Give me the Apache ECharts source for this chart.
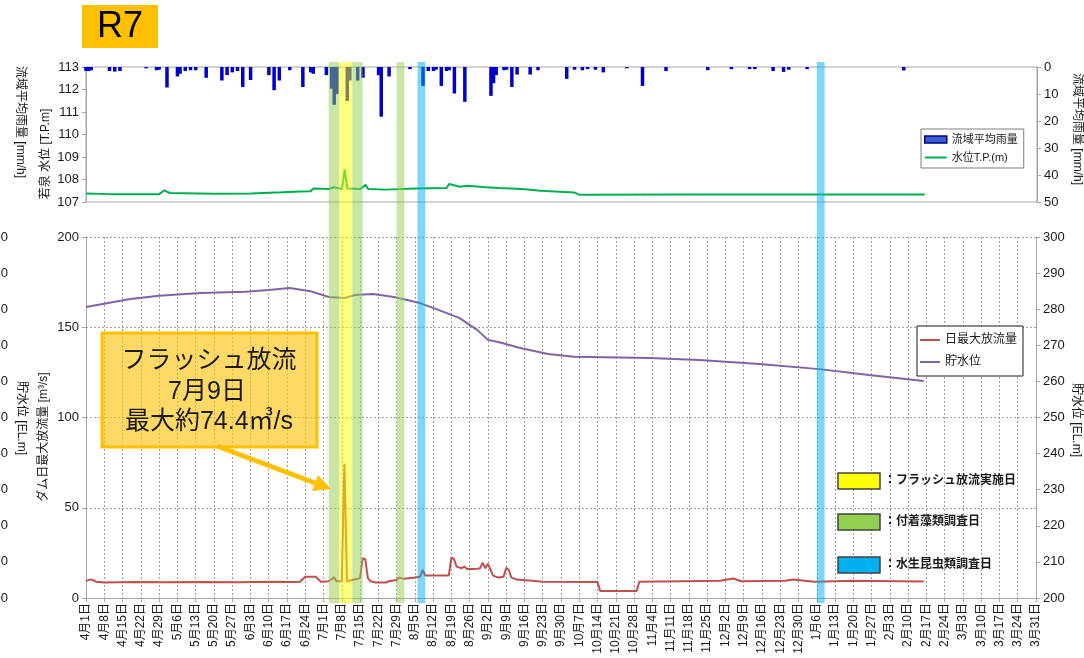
<!DOCTYPE html>
<html>
<head>
<meta charset="utf-8">
<script src="https://cdn.jsdelivr.net/npm/echarts@6/dist/echarts.min.js"></script>
<style>
  html, body { margin: 0; padding: 0; background: #fff; }
  #chart { width: 1084px; height: 658px; }
</style>
</head>
<body>
<div id="chart"></div>
<script>
// ---- Data (fiscal year R7: 4/1 .. 3/31) ----
// Basin average rainfall [mm/h]
const rainDates = ['4/1','4/2','4/3','4/10','4/12','4/14','4/24','4/28','4/29','5/2','5/6','5/7','5/9','5/11','5/13','5/17','5/23','5/25','5/27','5/29','5/31','6/3','6/10','6/12','6/14','6/18','6/23','6/26','6/27','7/2','7/4','7/5','7/6','7/10','7/11','7/14','7/16','7/22','7/23','7/26','8/3','8/8','8/10','8/12','8/13','8/15','8/17','8/18','8/20','8/24','9/3','9/4','9/5','9/8','9/9','9/11','9/13','9/18','9/21','10/2','10/5','10/8','10/10','10/13','10/16','10/25','10/31','11/9','11/25','12/4','12/11','12/13','12/20','12/24','12/26','1/2','2/8'];
const rainValues = [1.5,1.5,1.2,1.5,1.7,1.5,0.5,1.2,1.0,7.6,3.5,2.5,1.5,1.2,1.2,4.0,5.0,3.0,2.0,1.5,7.4,4.8,3.0,8.6,5.0,1.2,7.4,2.0,2.5,3.0,8.0,14.0,10.0,12.6,5.0,5.0,4.0,3.0,18.4,3.5,0.8,7.0,1.5,1.5,1.0,7.0,1.5,1.2,9.8,12.9,10.7,6.0,3.0,1.2,1.0,7.4,2.8,2.8,1.2,4.4,1.0,1.2,0.8,1.0,2.0,0.5,7.0,1.5,1.2,0.8,0.8,0.8,1.5,1.8,1.0,0.8,1.3];

// River water level T.P. [m]
const levelDates = ['4/1','4/10','4/29','5/1','5/3','5/20','6/3','6/15','6/22','6/26','6/27','7/3','7/5','7/8','7/9','7/10','7/15','7/17','7/18','7/25','8/5','8/17','8/18','8/22','8/25','9/1','9/6','9/15','9/22','10/5','10/7','11/15','12/20','2/16'];
const levelValues = [107.38,107.35,107.35,107.52,107.40,107.37,107.38,107.43,107.47,107.48,107.60,107.58,107.66,107.58,108.45,107.60,107.58,107.76,107.58,107.55,107.60,107.62,107.80,107.68,107.72,107.66,107.62,107.58,107.50,107.42,107.32,107.33,107.33,107.33];

// Daily maximum dam discharge [m3/s]
const dischargeDates = ['4/1','4/3','4/5','4/8','4/20','5/1','5/15','5/30','6/10','6/20','6/22','6/24','6/28','6/30','7/3','7/5','7/6','7/8','7/9','7/10','7/12','7/15','7/16','7/17','7/18','7/19','7/21','7/25','7/26','7/29','7/30','8/1','8/5','8/7','8/8','8/9','8/18','8/19','8/20','8/21','8/23','8/24','8/25','8/28','8/30','8/31','9/1','9/2','9/4','9/6','9/8','9/9','9/10','9/11','9/13','9/19','9/23','10/14','10/15','10/29','10/30','11/15','11/30','12/5','12/8','12/25','12/28','1/5','1/20','2/16'];
const dischargeValues = [9.5,10.3,9.0,8.6,8.8,8.7,8.9,8.7,9.0,8.9,9.0,11.8,11.8,9.0,9.3,11.5,9.3,9.3,74.4,9.3,10.0,11.0,22.0,21.5,11.0,9.3,8.6,8.6,9.3,10.0,11.3,10.6,11.3,11.8,15.5,12.4,12.4,22.5,21.5,17.4,16.5,17.4,16.0,16.0,16.5,19.6,16.5,18.9,12.4,11.3,11.8,16.8,15.5,11.3,10.2,9.5,9.0,8.8,3.9,3.9,9.0,9.3,9.5,10.8,9.3,9.5,10.3,9.0,9.5,9.2];

// Reservoir water level [EL.m]
const reservoirDates = ['4/1','4/10','4/18','4/29','5/15','6/1','6/10','6/18','6/26','7/3','7/9','7/13','7/20','7/28','8/7','8/14','8/22','8/29','9/2','9/6','9/14','9/25','10/5','11/3','11/22','12/15','1/7','1/26','2/16'];
const reservoirValues = [280.6,281.8,282.8,283.7,284.5,284.8,285.3,285.9,285.0,283.4,283.1,283.9,284.2,283.4,281.7,279.8,277.6,274.2,271.5,270.9,269.3,267.6,266.8,266.5,265.9,264.8,263.4,261.8,260.1];

// Highlighted periods: [start, end]
const flushPeriods  = [['7/7','7/12']];
const algaePeriods  = [['7/3','7/7'], ['7/12','7/16'], ['7/29','8/1']];
const insectPeriods = [['8/6','8/9'], ['1/6','1/9']];

// Axis ranges
const levelAxis = [107, 113, 1];
const rainAxis = [0, 50, 10];
const dischargeAxis = [0, 200, 50];
const reservoirAxis = [200, 300, 10];

// ---- Helpers ----
const FY_START = Date.UTC(2025, 3, 1);
const DAY = 86400000;
function dayIndex(md) {
  const [m, d] = md.split('/').map(Number);
  const y = m >= 4 ? 2025 : 2026;
  return Math.round((Date.UTC(y, m - 1, d) - FY_START) / DAY);
}
function dayLabel(i) {
  const dt = new Date(FY_START + i * DAY);
  return (dt.getUTCMonth() + 1) + '月' + dt.getUTCDate() + '日';
}
const pairs = (dates, vals) => dates.map((d, i) => [dayIndex(d), vals[i]]);
const LAST_DAY = dayIndex('3/31');

// ---- Style / layout ----
const FONT = "'Liberation Sans', 'Noto Sans CJK JP', sans-serif";
const AXIS_GRAY = '#a6a6a6';
const TEXT = '#1a1a1a';
const BAND_TOP = 62, BAND_BOTTOM = 603;
const BAND_COLORS = ['#FFFF00', '#92D050', '#00B0F0'];

const bandData = []
  .concat(algaePeriods.map(p => [dayIndex(p[0]), dayIndex(p[1]), 1]))
  .concat(flushPeriods.map(p => [dayIndex(p[0]), dayIndex(p[1]), 0]))
  .concat(insectPeriods.map(p => [dayIndex(p[0]), dayIndex(p[1]), 2]));

const chart = echarts.init(document.getElementById('chart'), null, { renderer: 'canvas' });

function yAxisBase(gridIndex, position, r) {
  return {
    type: 'value', gridIndex, position,
    min: r[0], max: r[1], interval: r[2],
    axisLine: { show: true, lineStyle: { color: AXIS_GRAY, width: 1 } },
    axisTick: { show: true, inside: false, length: 4, lineStyle: { color: AXIS_GRAY } },
    axisLabel: { color: TEXT, fontSize: 13, fontFamily: FONT, margin: 7 },
    splitLine: { show: false }
  };
}

function vText(text, x, y, rot, size) {
  return {
    type: 'text', x, y, rotation: rot, z: 50,
    style: { text, fill: TEXT, fontSize: size || 12, fontFamily: FONT, align: 'center', verticalAlign: 'middle' }
  };
}

const option = {
  animation: false,
  backgroundColor: '#fff',
  textStyle: { fontFamily: FONT },
  grid: [
    { left: 86, top: 67, width: 951, height: 135, outerBoundsMode: 'none', containLabel: false,
      show: true, borderColor: AXIS_GRAY, borderWidth: 1, backgroundColor: 'transparent' },
    { left: 86, top: 237, width: 950, height: 361, outerBoundsMode: 'none', containLabel: false }
  ],
  xAxis: [
    {
      type: 'value', gridIndex: 0, min: 0, max: LAST_DAY, interval: 7,
      axisLine: { show: false }, axisTick: { show: false }, axisLabel: { show: false }, splitLine: { show: false }
    },
    {
      type: 'value', gridIndex: 1, min: 0, max: LAST_DAY, interval: 7,
      axisLine: { show: true, onZero: false, lineStyle: { color: AXIS_GRAY } },
      axisTick: { show: true, length: 4, lineStyle: { color: AXIS_GRAY } },
      axisLabel: { rotate: 90, fontSize: 12, color: TEXT, fontFamily: FONT, margin: 5, formatter: v => dayLabel(v) },
      splitLine: { show: true, lineStyle: { color: '#a0a0a0', type: [2, 2], width: 1 } }
    }
  ],
  yAxis: [
    yAxisBase(0, 'left', levelAxis),
    Object.assign(yAxisBase(0, 'right', rainAxis), { inverse: true }),
    Object.assign(yAxisBase(1, 'left', dischargeAxis), {
      splitLine: { show: true, lineStyle: { color: '#a0a0a0', type: [2, 2], width: 1 } }
    }),
    yAxisBase(1, 'right', reservoirAxis),
    // secondary elevation scale, mostly beyond the left edge
    {
      type: 'value', gridIndex: 1, position: 'left', offset: 76,
      min: reservoirAxis[0], max: reservoirAxis[1], interval: reservoirAxis[2],
      axisLine: { show: false }, axisTick: { show: false }, splitLine: { show: false },
      axisLabel: { color: TEXT, fontSize: 13, fontFamily: FONT, margin: 2 }
    }
  ],
  legend: [
    {
      left: 921, top: 129, orient: 'vertical',
      data: [
        { name: '流域平均雨量', icon: 'rect', itemStyle: { color: '#3a5fd0', borderColor: '#000080', borderWidth: 1.5 } },
        { name: '水位T.P.(m)', icon: 'path://M0,0H22V2H0Z' }
      ],
      itemWidth: 22, itemHeight: 7, itemGap: 7,
      padding: [5, 6, 5, 3],
      borderColor: '#7f7f7f', borderWidth: 1, backgroundColor: '#fff',
      textStyle: { fontSize: 11, color: TEXT, fontFamily: FONT }
    },
    {
      left: 917, top: 326, orient: 'vertical',
      data: [{ name: '日最大放流量', icon: 'rect' }, { name: '貯水位', icon: 'rect' }],
      itemWidth: 20, itemHeight: 2, itemGap: 10,
      padding: [8, 6, 8, 3],
      borderColor: '#1a1a1a', borderWidth: 1, backgroundColor: '#fff',
      textStyle: { fontSize: 12, color: TEXT, fontFamily: FONT }
    }
  ],
  series: [
    {
      name: '流域平均雨量', type: 'bar', xAxisIndex: 0, yAxisIndex: 1,
      data: pairs(rainDates, rainValues), barWidth: 3.5,
      itemStyle: { color: '#0000CC' }, silent: true
    },
    {
      name: '水位T.P.(m)', type: 'line', xAxisIndex: 0, yAxisIndex: 0,
      data: pairs(levelDates, levelValues), symbol: 'none',
      lineStyle: { color: '#00B050', width: 2 }, itemStyle: { color: '#00B050' }, silent: true
    },
    {
      name: '日最大放流量', type: 'line', xAxisIndex: 1, yAxisIndex: 2,
      data: pairs(dischargeDates, dischargeValues), symbol: 'none',
      lineStyle: { color: '#C0504D', width: 2 }, itemStyle: { color: '#C0504D' }, silent: true
    },
    {
      name: '貯水位', type: 'line', xAxisIndex: 1, yAxisIndex: 3,
      data: pairs(reservoirDates, reservoirValues), symbol: 'none',
      lineStyle: { color: '#8064A2', width: 2 }, itemStyle: { color: '#8064A2' }, silent: true
    },
    {
      name: 'bands', type: 'custom', xAxisIndex: 1, yAxisIndex: 2,
      data: bandData, encode: { x: [0, 1], y: 2 }, clip: false, z: 10, silent: true,
      renderItem: (params, api) => {
        const x0 = api.coord([api.value(0), 0])[0];
        const x1 = api.coord([api.value(1), 0])[0];
        return {
          type: 'rect',
          shape: { x: x0, y: BAND_TOP, width: x1 - x0, height: BAND_BOTTOM - BAND_TOP },
          style: { fill: BAND_COLORS[api.value(2)], opacity: 0.5 }
        };
      }
    }
  ],
  graphic: [
    // year tag
    { type: 'rect', shape: { x: 82, y: 5, width: 76, height: 43 }, style: { fill: '#FFC000' }, z: 50 },
    { type: 'text', x: 120, y: 27, z: 51, style: { text: 'R7', fill: '#000', fontSize: 36, fontFamily: FONT, align: 'center', verticalAlign: 'middle' } },

    // axis titles
    vText('若泉 水位 [T.P.m]', 46, 154, Math.PI / 2),
    vText('流域平均雨量 [mm/h]', 20, 122, -Math.PI / 2),
    vText('流域平均雨量 [mm/h]', 1077, 129, -Math.PI / 2),
    vText('ダム日最大放流量 [m³/s]', 44, 437, Math.PI / 2),
    vText('貯水位 [EL.m]', 21, 418, -Math.PI / 2),
    vText('貯水位 [EL.m]', 1076, 420, -Math.PI / 2),

    // flush release callout
    { type: 'rect', z: 60, shape: { x: 102, y: 333, width: 215, height: 114 },
      style: { fill: 'rgba(255,192,0,0.6)', stroke: '#FFC000', lineWidth: 3 } },
    { type: 'text', x: 209, y: 361, z: 61, style: { text: 'フラッシュ放流', fill: TEXT, fontSize: 25, fontFamily: FONT, align: 'center', verticalAlign: 'middle' } },
    { type: 'text', x: 207, y: 392, z: 61, style: { text: '7月9日', fill: TEXT, fontSize: 25, fontFamily: FONT, align: 'center', verticalAlign: 'middle' } },
    { type: 'text', x: 209, y: 422, z: 61, style: { text: '最大約74.4㎥/s', fill: TEXT, fontSize: 25, fontFamily: FONT, align: 'center', verticalAlign: 'middle' } },
    { type: 'line', z: 61, shape: { x1: 217, y1: 446, x2: 315, y2: 483 }, style: { stroke: '#FFC000', lineWidth: 5 } },
    { type: 'polygon', z: 61, shape: { points: [[331, 489], [312, 491], [318, 475]] }, style: { fill: '#FFC000' } },

    // highlight key
    { type: 'rect', z: 50, shape: { x: 838, y: 473, width: 42, height: 16 }, style: { fill: '#FFFF00', stroke: '#404040', lineWidth: 1.5 } },
    { type: 'rect', z: 50, shape: { x: 838, y: 514, width: 42, height: 16 }, style: { fill: '#92D050', stroke: '#404040', lineWidth: 1.5 } },
    { type: 'rect', z: 50, shape: { x: 838, y: 557, width: 42, height: 16 }, style: { fill: '#00B0F0', stroke: '#404040', lineWidth: 1.5 } },
    { type: 'text', x: 884, y: 481, z: 50, style: { text: '：フラッシュ放流実施日', fill: TEXT, fontSize: 12, fontWeight: 'bold', fontFamily: FONT, align: 'left', verticalAlign: 'middle' } },
    { type: 'text', x: 884, y: 522, z: 50, style: { text: '：付着藻類調査日', fill: TEXT, fontSize: 12, fontWeight: 'bold', fontFamily: FONT, align: 'left', verticalAlign: 'middle' } },
    { type: 'text', x: 884, y: 565, z: 50, style: { text: '：水生昆虫類調査日', fill: TEXT, fontSize: 12, fontWeight: 'bold', fontFamily: FONT, align: 'left', verticalAlign: 'middle' } }
  ]
};

chart.setOption(option);
</script>
</body>
</html>
